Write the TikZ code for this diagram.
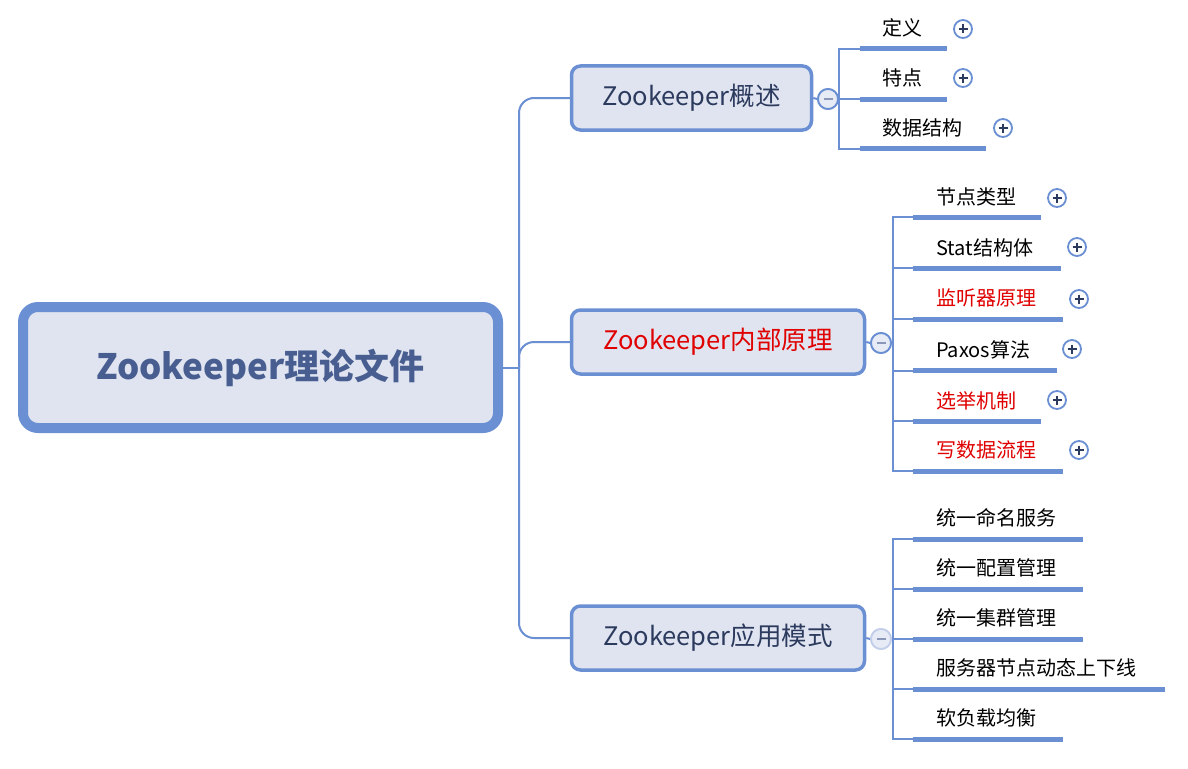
\documentclass[tikz,border=0pt]{standalone}
\usepackage{fontspec}
\setmainfont{Noto Sans CJK SC}
\usetikzlibrary{calc}
\definecolor{lineblue}{HTML}{6A8FD2}
\definecolor{boxfill}{HTML}{DFE4F0}
\definecolor{navy}{HTML}{2C3A5E}
\definecolor{rootnavy}{HTML}{485E91}
\definecolor{mmred}{HTML}{E00000}
\definecolor{minusfill}{HTML}{E6EBF5}
\definecolor{minusglyph}{HTML}{8A97B8}
\definecolor{paleblue}{HTML}{C3CFEA}
\tikzset{
  conn/.style={draw=lineblue, line width=2pt},
  uline/.style={draw=lineblue, line width=5pt, line cap=butt},
  rootbox/.style={draw=lineblue, line width=10pt, fill=boxfill, rounded corners=15pt,
    minimum width=475pt, minimum height=121pt, inner sep=0pt, text=rootnavy,
    font=\fontsize{35}{35}\selectfont\bfseries},
  lonebox/.style={draw=lineblue, line width=3.5pt, fill=boxfill, rounded corners=9pt,
    minimum height=64pt, inner sep=0pt, text=navy, font=\fontsize{25.5}{25.5}\selectfont},
  child/.style={anchor=west, inner sep=0pt, text=black, font=\fontsize{20}{20}\selectfont},
  redtext/.style={text=mmred},
  plusc/.style={circle, draw=lineblue, line width=1.8pt, fill=white, minimum size=18pt, inner sep=0pt,
    path picture={\draw[navy, line width=1.6pt]
      ($(path picture bounding box.center)+(-4.5,0)$) -- ++(9,0)
      ($(path picture bounding box.center)+(0,-4.5)$) -- ++(0,9);}},
  minusc/.style={circle, draw=lineblue, line width=1.8pt, fill=minusfill, minimum size=20pt, inner sep=0pt,
    path picture={\draw[minusglyph, line width=1.8pt]
      ($(path picture bounding box.center)+(-4.5,0)$) -- ++(9,0);}},
}
\begin{document}
\begin{tikzpicture}[x=1pt,y=-1pt]
\useasboundingbox (0,0) rectangle (1188,768);
\fill[white] (0,0) rectangle (1188,768);

% root and level-1 nodes
\node[rootbox] (root) at (260.5,367.5) {Zookeeper理论文件};
\node[lonebox, minimum width=240pt] (a) at (691.5,98) {Zookeeper概述};
\node[lonebox, minimum width=293pt, text=mmred] (b) at (718,342) {Zookeeper内部原理};
\node[lonebox, minimum width=293pt] (c) at (718,638) {Zookeeper应用模式};

% trunk
\coordinate (t) at (519,367.5);
\draw[conn] (root.east) -- (t);
\draw[conn, rounded corners=15pt] (t) |- (a.west);
\draw[conn, rounded corners=15pt] (t) |- (b.west);
\draw[conn, rounded corners=15pt] (t) |- (c.west);

% collapse circles
\node[minusc] (ma) at (828,99) {};
\node[minusc] (mb) at (881,343) {};
\node[minusc, draw=paleblue] (mc) at (881,639) {};

% ---------- group 1 ----------
\coordinate (ja) at (839,99);
\coordinate (a1s) at (860,49);  \coordinate (a1e) at (947,49);
\coordinate (a2s) at (860,99);  \coordinate (a2e) at (947,99);
\coordinate (a3s) at (860,148.5); \coordinate (a3e) at (986,148.5);
\draw[conn] (a.east) -- (ma.west);
\draw[conn] (ma.east) -- (ja);
\draw[conn] (ja) |- (a1s);
\draw[conn] (ja) -- (a2s);
\draw[conn] (ja) |- (a3s);
\draw[uline] (a1s) -- (a1e);
\draw[uline] (a2s) -- (a2e);
\draw[uline] (a3s) -- (a3e);
\node[child] (a1) at (882,28) {定义};
\node[child] (a2) at (882,78) {特点};
\node[child] (a3) at (882,128) {数据结构};
\node[plusc] (pa1) at (963,29) {};
\node[plusc] (pa2) at (963,78) {};
\node[plusc] (pa3) at (1003,128) {};

% ---------- group 2 ----------
\coordinate (jb) at (893,343);
\coordinate (b1s) at (913,217);   \coordinate (b1e) at (1041,217);
\coordinate (b2s) at (913,268);   \coordinate (b2e) at (1061,268);
\coordinate (b3s) at (913,319);   \coordinate (b3e) at (1063,319);
\coordinate (b4s) at (913,370.5); \coordinate (b4e) at (1057,370.5);
\coordinate (b5s) at (913,421);   \coordinate (b5e) at (1041,421);
\coordinate (b6s) at (913,471);   \coordinate (b6e) at (1063,471);
\draw[conn] (b.east) -- (mb.west);
\draw[conn] (mb.east) -- (jb);
\foreach \i in {1,...,6}{\draw[conn] (jb) |- (b\i s);}
\foreach \i in {1,...,6}{\draw[uline] (b\i s) -- (b\i e);}
\node[child] (b1) at (936,197) {节点类型};
\node[child] (b2) at (936,248) {Stat结构体};
\node[child, redtext] (b3) at (936,298) {监听器原理};
\node[child] (b4) at (936,350) {Paxos算法};
\node[child, redtext] (b5) at (936,401) {选举机制};
\node[child, redtext] (b6) at (936,450) {写数据流程};
\node[plusc] (pb1) at (1057,198) {};
\node[plusc] (pb2) at (1077,247) {};
\node[plusc] (pb3) at (1079,299) {};
\node[plusc] (pb4) at (1072,349) {};
\node[plusc] (pb5) at (1057,400) {};
\node[plusc] (pb6) at (1079,450) {};

% ---------- group 3 ----------
\coordinate (jc) at (893,639);
\coordinate (c1s) at (913,539); \coordinate (c1e) at (1083,539);
\coordinate (c2s) at (913,589); \coordinate (c2e) at (1083,589);
\coordinate (c3s) at (913,639); \coordinate (c3e) at (1083,639);
\coordinate (c4s) at (913,689); \coordinate (c4e) at (1165,689);
\coordinate (c5s) at (913,739); \coordinate (c5e) at (1063,739);
\draw[conn] (c.east) -- (mc.west);
\draw[conn] (mc.east) -- (jc);
\foreach \i in {1,...,5}{\draw[conn] (jc) |- (c\i s);}
\foreach \i in {1,...,5}{\draw[uline] (c\i s) -- (c\i e);}
\node[child] (c1) at (936,518) {统一命名服务};
\node[child] (c2) at (936,568) {统一配置管理};
\node[child] (c3) at (936,618) {统一集群管理};
\node[child] (c4) at (936,668) {服务器节点动态上下线};
\node[child] (c5) at (936,718) {软负载均衡};

% redraw collapse circles on top of connectors
\node[minusc] at (ma) {};
\node[minusc] at (mb) {};
\node[minusc, draw=paleblue] at (mc) {};
\end{tikzpicture}
\end{document}
